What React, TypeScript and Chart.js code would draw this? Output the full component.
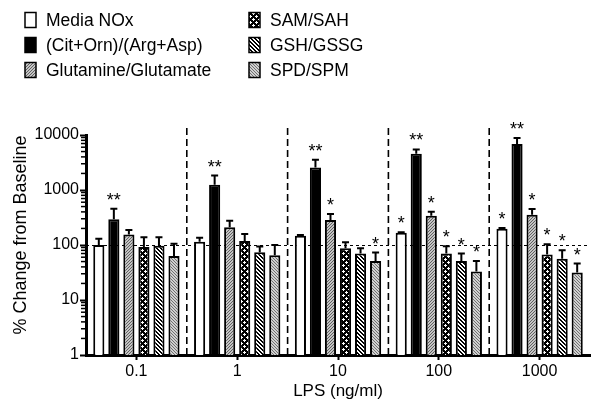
import React, { useEffect, useRef } from 'react';
import { Chart, registerables } from 'chart.js';

Chart.register(...registerables);

const FONT = "'Liberation Sans', Arial, Helvetica, sans-serif";

// ---- data ----
const categories = ['0.1', '1', '10', '100', '1000'];
const seriesLabels = [
  'Media NOx',
  '(Cit+Orn)/(Arg+Asp)',
  'Glutamine/Glutamate',
  'SAM/SAH',
  'GSH/GSSG',
  'SPD/SPM',
];
const mediaNOx = [100, 114, 147, 167, 198];
const mediaNOxErr = [130, 135, 152, 171, 204];
const citOrn = [293, 1240, 2560, 4560, 6850];
const citOrnErr = [457, 1830, 3540, 5470, 8820];
const glnGlu = [156, 210, 285, 341, 356];
const glnGluErr = [187, 277, 366, 403, 452];
const samSah = [92, 118, 87, 70, 67];
const samSahErr = [138, 158, 112, 95, 103];
const gshGssg = [97, 74, 70, 51, 56];
const gshGssgErr = [138, 94, 87, 70, 80];
const spdSpm = [63, 65, 51, 33, 31.6];
const spdSpmErr = [105, 100, 73, 51, 46];

const mediaStars = ['', '', '', '*', '*'];
const citStars = ['**', '**', '**', '**', '**'];
const glnStars = ['', '', '*', '*', '*'];
const samStars = ['', '', '', '*', '*'];
const gshStars = ['', '', '', '*', '*'];
const spdStars = ['', '', '*', '*', '*'];

const yTickValues = [1, 10, 100, 1000, 10000];
const baselineValue = 100;
const yTitle = '% Change from Baseline';
const xTitle = 'LPS (ng/ml)';

const seriesValues = [mediaNOx, citOrn, glnGlu, samSah, gshGssg, spdSpm];
const seriesErrors = [mediaNOxErr, citOrnErr, glnGluErr, samSahErr, gshGssgErr, spdSpmErr];
const seriesStars = [mediaStars, citStars, glnStars, samStars, gshStars, spdStars];

// ---- patterns ----
function makePattern(size: number, bg: string, fg: string, test: (x: number, y: number) => boolean): CanvasPattern | string {
  const c = document.createElement('canvas');
  c.width = size;
  c.height = size;
  const g = c.getContext('2d');
  if (!g) return bg;
  g.fillStyle = bg;
  g.fillRect(0, 0, size, size);
  g.fillStyle = fg;
  for (let y = 0; y < size; y++) {
    for (let x = 0; x < size; x++) {
      if (test(x, y)) g.fillRect(x, y, 1, 1);
    }
  }
  const p = g.createPattern(c, 'repeat');
  return p || bg;
}

function buildFills(): (CanvasPattern | string)[] {
  const gln = makePattern(3, '#c4c4c4', '#606060', (x, y) => (x + y) % 3 === 2);
  const samWhite = new Set([
    '1,0', '0,1', '1,1', '2,1', '1,2',
    '4,3', '3,4', '4,4', '5,4', '4,5',
  ]);
  const sam = makePattern(6, '#000000', '#ffffff', (x, y) => samWhite.has(x + ',' + y));
  const gsh = makePattern(4, '#ffffff', '#000000', (x, y) => ((x - y) % 4 + 4) % 4 < 2);
  const spd = makePattern(3, '#d0d0d0', '#707070', (x, y) => ((x - y) % 3 + 3) % 3 === 0);
  return ['#ffffff', '#000000', gln, sam, gsh, spd];
}

export default function App() {
  const ref = useRef<HTMLCanvasElement | null>(null);

  useEffect(() => {
    document.body.style.margin = '0';
    const canvas = ref.current;
    if (!canvas) return;
    const fills = buildFills();

    const overlay = {
      id: 'overlay',
      beforeDatasetsDraw(chart: any) {
        const { ctx, chartArea, scales } = chart;
        const xs = scales.x;
        const ys = scales.y;
        ctx.save();
        ctx.strokeStyle = '#000';
        // baseline dotted line
        ctx.setLineDash([3, 3]);
        ctx.lineWidth = 1;
        const yb = Math.round(ys.getPixelForValue(baselineValue)) + 0.5;
        ctx.beginPath();
        ctx.moveTo(chartArea.left, yb);
        ctx.lineTo(chartArea.right, yb);
        ctx.stroke();
        // group separators
        ctx.setLineDash([7, 4]);
        ctx.lineWidth = 1.6;
        for (let i = 0; i < categories.length - 1; i++) {
          const px = (xs.getPixelForValue(i) + xs.getPixelForValue(i + 1)) / 2;
          ctx.beginPath();
          ctx.moveTo(px, chartArea.top - 7);
          ctx.lineTo(px, chartArea.bottom);
          ctx.stroke();
        }
        // minor log ticks
        ctx.setLineDash([]);
        ctx.lineWidth = 1.5;
        for (let d = 0; d < yTickValues.length - 1; d++) {
          for (let k = 2; k <= 9; k++) {
            const v = yTickValues[d] * k;
            const py = ys.getPixelForValue(v);
            ctx.beginPath();
            ctx.moveTo(chartArea.left - 5, py);
            ctx.lineTo(chartArea.left, py);
            ctx.stroke();
          }
        }
        ctx.restore();
      },
      afterDatasetsDraw(chart: any) {
        const { ctx, scales } = chart;
        const ys = scales.y;
        ctx.save();
        ctx.strokeStyle = '#000';
        ctx.fillStyle = '#000';
        ctx.lineWidth = 2;
        ctx.setLineDash([]);
        seriesValues.forEach((_, si) => {
          const meta = chart.getDatasetMeta(si);
          meta.data.forEach((el: any, j: number) => {
            const x = el.x;
            const yTop = el.y;
            const yErr = ys.getPixelForValue(seriesErrors[si][j]);
            ctx.beginPath();
            ctx.moveTo(x, yTop);
            ctx.lineTo(x, yErr);
            ctx.moveTo(x - 3.5, yErr);
            ctx.lineTo(x + 3.5, yErr);
            ctx.stroke();
            const s = seriesStars[si][j];
            if (s) {
              ctx.font = `18px ${FONT}`;
              ctx.textAlign = 'center';
              ctx.textBaseline = 'alphabetic';
              ctx.fillText(s, x, yErr - 3);
            }
          });
        });
        ctx.restore();
      },
      afterDraw(chart: any) {
        const { ctx, chartArea } = chart;
        // y-axis title
        ctx.save();
        ctx.fillStyle = '#000';
        ctx.font = `18px ${FONT}`;
        ctx.textAlign = 'center';
        ctx.textBaseline = 'middle';
        ctx.translate(21, (chartArea.top + chartArea.bottom) / 2 - 10);
        ctx.rotate(-Math.PI / 2);
        ctx.fillText(yTitle, 0, 0);
        ctx.restore();

        // legend
        const colX = [25, 249];
        const rowY = [20, 45, 70];
        const textGap = 21;
        ctx.save();
        ctx.font = `17.5px ${FONT}`;
        ctx.textAlign = 'left';
        ctx.textBaseline = 'middle';
        seriesLabels.forEach((label, i) => {
          const col = Math.floor(i / 3);
          const row = i % 3;
          const bx = colX[col];
          const by = rowY[row] - 7.5;
          ctx.fillStyle = fills[i] as any;
          ctx.fillRect(bx, by, 11, 15);
          ctx.strokeStyle = '#000';
          ctx.lineWidth = 1.5;
          ctx.strokeRect(bx, by, 11, 15);
          ctx.fillStyle = '#000';
          ctx.fillText(label, bx + textGap, rowY[row] + 1);
        });
        ctx.restore();
      },
    };

    const chart = new Chart(canvas, {
      type: 'bar',
      data: {
        labels: categories,
        datasets: seriesLabels.map((label, i) => ({
          label,
          data: seriesValues[i],
          backgroundColor: fills[i] as any,
          borderColor: '#000',
          borderWidth: 2,
          categoryPercentage: 0.895,
          barPercentage: 0.74,
        })),
      },
      options: {
        responsive: false,
        animation: false,
        events: [],
        layout: { padding: { top: 135, right: 10, bottom: 0, left: 0 } },
        plugins: {
          legend: { display: false },
          tooltip: { enabled: false },
        },
        scales: {
          x: {
            offset: true,
            grid: {
              drawOnChartArea: false,
              offset: false,
              drawTicks: true,
              tickLength: 5,
              tickWidth: 2,
              tickColor: '#000',
            },
            border: { display: true, width: 3, color: '#000' },
            ticks: {
              color: '#000',
              font: { size: 16, family: FONT },
              padding: 2,
              maxRotation: 0,
            },
            title: {
              display: true,
              text: xTitle,
              color: '#000',
              font: { size: 17, family: FONT },
              padding: { top: 0, bottom: 7 },
            },
            afterFit: (scale: any) => {
              scale.height = 54;
            },
          },
          y: {
            type: 'logarithmic',
            min: 1,
            max: 10000,
            afterBuildTicks: (scale: any) => {
              scale.ticks = yTickValues.map((v) => ({ value: v }));
            },
            grid: {
              drawOnChartArea: false,
              drawTicks: true,
              tickLength: 6,
              tickWidth: 2,
              tickColor: '#000',
            },
            border: { display: true, width: 3, color: '#000' },
            ticks: {
              autoSkip: false,
              color: '#000',
              font: { size: 16, family: FONT },
              padding: 1,
              callback: (v: any) => String(v),
            },
            title: { display: false },
            afterFit: (scale: any) => {
              scale.width = 86;
            },
          },
        },
      },
      plugins: [overlay],
    } as any);

    return () => {
      chart.destroy();
    };
  }, []);

  return <canvas ref={ref} width={600} height={409} style={{ display: 'block' }} />;
}
